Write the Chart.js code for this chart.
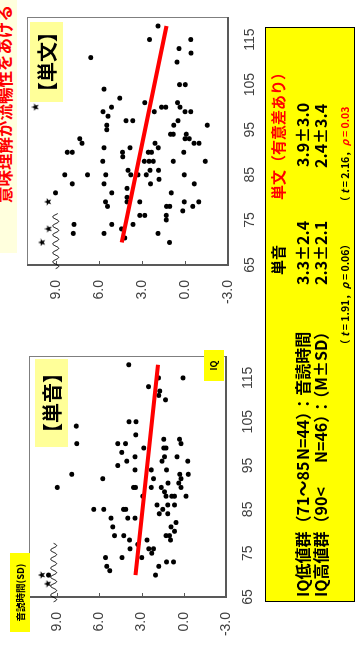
<!DOCTYPE html>
<html>
<head>
<meta charset="utf-8">
<script src="https://cdn.jsdelivr.net/npm/chart.js@4.4.1/dist/chart.umd.min.js"></script>
<style>
  html, body { margin: 0; padding: 0; background: #fff; overflow: hidden; }
  #slide {
    position: absolute; left: 0; top: 0; width: 647px; height: 357px;
    transform-origin: 0 0; transform: translate(0, 647px) rotate(-90deg);
    background: #fff; font-family: "Noto Sans CJK JP", "Noto Sans", sans-serif;
  }
  .abs { position: absolute; white-space: nowrap; }
  canvas { position: absolute; }
  .tag { position: absolute; text-align: center; font-weight: bold; color: #000; }
  .row { position: absolute; white-space: nowrap; font-weight: bold; color: #000; }
  .red { color: #ff0000; }
  .it { font-style: italic; }
</style>
</head>
<body>
<div id="slide">
  <div class="abs" style="left:394px;top:0;width:253px;height:17px;background:#ffffdd;"></div>
  <div class="abs" style="left:444px;top:-6px;font-size:16.5px;line-height:20px;font-weight:bold;color:#ff0000;">意味理解が流暢性をあげる</div>

  <canvas id="soundChart" width="300" height="276" style="left:0;top:0;"></canvas>
  <canvas id="sentenceChart" width="310" height="280" style="left:330px;top:0;"></canvas>

  <div class="tag" style="left:200px;top:35px;width:88px;height:33px;line-height:33px;background:#ffff99;font-size:20px;">【単音】</div>
  <div class="tag" style="left:545px;top:30px;width:80px;height:33px;line-height:33px;background:#ffff99;font-size:20px;">【単文】</div>
  <div class="tag" style="left:266px;top:204px;width:31px;height:20px;line-height:20px;background:#ffff00;font-size:9px;">IQ</div>
  <div class="tag" style="left:15px;top:10px;width:79px;height:20px;line-height:20px;background:#ffff00;font-size:9.5px;">音読時間(SD)</div>

  <div class="abs" style="left:45px;top:265px;width:575px;height:90px;background:#ffff00;border:1.5px solid #000;box-sizing:border-box;"></div>

  <div class="row" style="left:372px;top:268px;font-size:15px;line-height:20px;">単音</div>
  <div class="row red" style="left:447px;top:268px;font-size:15px;line-height:20px;">単文（有意差あり）</div>

  <div class="row" style="left:50px;top:292px;font-size:16px;line-height:20px;">IQ低値群（71〜85</div>
  <div class="row" style="left:187px;top:292px;font-size:16px;line-height:20px;">N=44）：音読時間</div>
  <div class="row" style="left:362px;top:292px;font-size:16px;line-height:20px;">3.3±2.4</div>
  <div class="row" style="left:480px;top:292px;font-size:16px;line-height:20px;">3.9±3.0</div>

  <div class="row" style="left:50px;top:310px;font-size:16px;line-height:20px;">IQ高値群（90&lt;</div>
  <div class="row" style="left:184px;top:310px;font-size:16px;line-height:20px;">N=46）：（M±SD）</div>
  <div class="row" style="left:362px;top:310px;font-size:16px;line-height:20px;">2.3±2.1</div>
  <div class="row" style="left:479px;top:310px;font-size:16px;line-height:20px;">2.4±3.4</div>

  <div class="row" style="left:297px;top:337px;font-size:10.5px;line-height:16px;">（ <span class="it">t</span> = 1.91，<span class="it">ρ</span> = 0.06）</div>
  <div class="row" style="left:440px;top:337px;font-size:10.5px;line-height:16px;">（ <span class="it">t</span> = 2.16，<span class="red"><span class="it">ρ</span> = 0.03</span></div>
</div>

<script>
// 単音: IQ and reading-time deviation (SD) for each child
const soundIQ = [118,115,115,113,112,111,110,104,105,105,102,100,100,100,99,101,101,100,99,99,
  98,97,97,97,96,96,96,95,94,94,94,93,93,93,92,92,92,91,91,90,
  90,90,90,90,90,89,88,88,88,88,88,85,85,85,85,86,86,86,85,84,
  84,83,83,83,82,81,81,80,79,79,79,79,78,78,78,77,76,76,76,75,
  74,74,74,72,71,72,73,73,70,70];
const soundTime = [3.91,1.80,0.05,2.51,1.71,1.78,1.30,7.65,3.89,3.39,3.41,7.60,4.69,4.14,2.84,1.42,0.31,0.19,1.42,1.26,
  4.41,3.46,1.37,0.48,4.05,1.54,-0.28,4.69,3.46,2.32,1.23,0.28,-0.31,7.96,5.76,2.15,0.19,1.12,0.36,9.00,
  3.57,3.43,2.32,1.61,0.19,1.37,2.91,1.26,0.85,0.66,-0.16,6.40,5.69,4.29,4.12,1.90,1.14,0.66,1.49,1.74,
  1.14,5.17,3.98,3.46,0.55,5.05,0.90,0.66,4.93,4.26,1.26,1.02,3.86,2.61,0.95,3.27,3.82,2.49,2.15,2.27,
  5.57,4.39,2.99,5.47,5.26,1.78,1.23,0.73,2.01,9.62];
// 単音: values beyond the axis break
const soundOutIQ = [70, 68];
const soundOutTime = [10.09, 9.67];
// 単音: regression line end points
const soundFitIQ = [70, 118];
const soundFitTime = [3.43, 1.83];

// 単文: IQ and reading-time deviation (SD)
const sentenceIQ = [118,115,115,113,112,111,110,105,105,104,102,101,101,100,99,100,99,100,100,99,
  99,98,97,97,97,96,96,96,95,94,94,94,93,93,92,92,93,92,92,91,
  91,91,90,90,90,89,90,90,90,88,88,88,88,88,88,86,86,86,85,85,
  85,85,85,85,84,85,83,83,83,83,81,81,82,81,79,78,80,79,79,79,
  79,78,78,78,77,76,76,76,75,74,74,74,73,72,72,71,72,70];
const sentenceTime = [1.88,2.46,-0.40,0.42,-0.42,6.56,0.56,0.37,-0.02,5.63,4.54,2.79,0.51,0.35,5.70,5.12,2.14,1.63,1.33,0.00,
  -0.40,5.35,4.10,3.63,0.49,0.77,-1.56,5.44,5.44,1.00,0.82,-0.09,0.00,-0.30,-0.63,-0.98,7.33,7.17,2.09,1.86,
  5.63,3.82,8.19,7.84,4.35,4.33,2.56,2.32,0.09,5.72,2.84,2.51,2.21,0.82,-1.42,3.96,2.44,1.84,8.37,6.79,
  5.51,3.77,3.26,2.70,1.81,0.05,7.84,5.63,2.39,-0.65,9.02,5.09,4.03,0.96,5.53,5.39,4.03,4.03,3.14,0.05,
  -0.96,1.28,1.05,-0.54,0.16,3.14,2.79,1.30,1.30,7.73,5.09,3.61,4.42,7.77,5.63,4.19,1.88,1.07];
const sentenceOutIQ = [79, 73, 70, 100];
const sentenceOutTime = [9.54, 9.51, 9.96, 10.42];
const sentenceFitIQ = [70, 118];
const sentenceFitTime = [4.40, 1.28];

// axis ticks
const iqTicks = [65, 75, 85, 95, 105, 115];
const timeTicks = [-3, 0, 3, 6, 9];

const zip = (xs, ys) => xs.map((x, i) => ({ x: x, y: ys[i] }));

// small filled star used for the out-of-range values
function starImage(size) {
  const c = document.createElement('canvas');
  c.width = size; c.height = size;
  const g = c.getContext('2d');
  const cx = size / 2, cy = size / 2, R = size / 2, r = R * 0.42;
  g.beginPath();
  for (let i = 0; i < 10; i++) {
    const rad = i % 2 === 0 ? R : r;
    const a = -Math.PI / 2 + i * Math.PI / 5;
    const px = cx + rad * Math.cos(a), py = cy + rad * Math.sin(a);
    if (i === 0) g.moveTo(px, py); else g.lineTo(px, py);
  }
  g.closePath();
  g.fillStyle = '#000';
  g.fill();
  return c;
}
const star = starImage(8);

// plot frame, inside tick marks and the wavy axis-break symbol
const framePlugin = {
  id: 'frame',
  beforeDatasetsDraw(chart, args, opts) {
    const ctx = chart.ctx, a = chart.chartArea;
    const xs = chart.scales.x, ys = chart.scales.y;
    ctx.save();
    ctx.strokeStyle = '#7f7f7f';
    ctx.lineWidth = 1;
    ctx.strokeRect(a.left + 0.5, a.top + 0.5, a.right - a.left - 1, a.bottom - a.top - 1);
    ctx.strokeStyle = '#595959';
    ctx.lineWidth = 2;
    ctx.beginPath();
    ctx.moveTo(a.left, a.top);
    ctx.lineTo(a.left, a.bottom);
    ctx.lineTo(a.right, a.bottom);
    ctx.stroke();
    ctx.lineWidth = 1;
    ys.ticks.forEach(t => {
      const py = Math.round(ys.getPixelForValue(t.value)) + 0.5;
      ctx.beginPath();
      ctx.moveTo(a.left, py);
      ctx.lineTo(a.left + 4, py);
      ctx.stroke();
    });
    if (opts.wave) {
      const w = opts.wave;
      const x0 = xs.getPixelForValue(w.from), x1 = xs.getPixelForValue(w.to);
      const py = ys.getPixelForValue(w.level);
      ctx.strokeStyle = '#000';
      ctx.lineWidth = 1;
      ctx.beginPath();
      for (let px = x0; px <= x1; px += 0.5) {
        const yy = py + w.amp * Math.sin(2 * Math.PI * (px - x0) / w.period);
        if (px === x0) ctx.moveTo(px, yy); else ctx.lineTo(px, yy);
      }
      ctx.stroke();
    }
    ctx.restore();
  }
};

function buildChart(id, pts, outs, fit, geom, wave) {
  const tickFont = { family: 'Liberation Sans', size: 14 };
  return new Chart(document.getElementById(id), {
    type: 'scatter',
    data: {
      datasets: [
        { data: fit, showLine: true, borderColor: '#ff0000', borderWidth: 4,
          pointRadius: 0, borderCapStyle: 'butt', order: 0 },
        { data: pts, backgroundColor: '#000', borderWidth: 0, pointRadius: 2.5, order: 1 },
        { data: outs, pointStyle: star, pointRadius: 4, order: 2 }
      ]
    },
    options: {
      responsive: false,
      animation: false,
      layout: { padding: { top: geom.top, right: geom.right, left: 0, bottom: 0 } },
      plugins: { legend: { display: false }, tooltip: { enabled: false }, frame: { wave: wave } },
      scales: {
        x: {
          type: 'linear', min: 65, max: 120,
          grid: { display: false, drawTicks: false }, border: { display: false },
          afterBuildTicks: s => { s.ticks = iqTicks.map(v => ({ value: v })); },
          afterFit: s => { s.height = geom.xh; },
          ticks: { padding: 14, color: '#404040', font: tickFont }
        },
        y: {
          type: 'linear', min: -3, max: 11,
          grid: { display: false, drawTicks: false }, border: { display: false },
          afterBuildTicks: s => { s.ticks = timeTicks.map(v => ({ value: v })); },
          afterFit: s => { s.width = geom.yw; },
          ticks: { padding: 15, color: '#404040', font: tickFont, callback: v => v.toFixed(1) }
        }
      }
    },
    plugins: [framePlugin]
  });
}

buildChart('soundChart', zip(soundIQ, soundTime), zip(soundOutIQ, soundOutTime),
  zip(soundFitIQ, soundFitTime),
  { top: 29, right: 9, xh: 50, yw: 50 },
  { level: 9.25, from: 63.9, to: 77.3, amp: 3, period: 9 });

buildChart('sentenceChart', zip(sentenceIQ, sentenceTime), zip(sentenceOutIQ, sentenceOutTime),
  zip(sentenceFitIQ, sentenceFitTime),
  { top: 27, right: 10, xh: 52, yw: 52 },
  { level: 9.0, from: 64.2, to: 76.4, amp: 3, period: 9 });
</script>
</body>
</html>
